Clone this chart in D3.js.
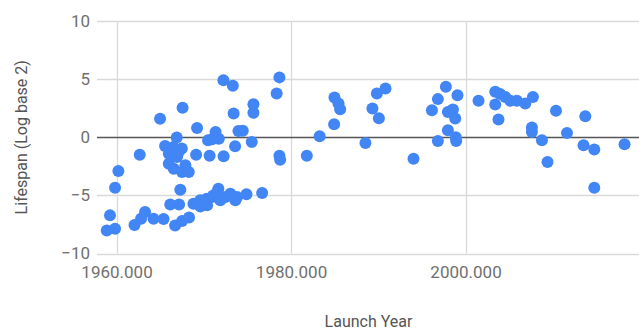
<!DOCTYPE html>
<html>
<head>
<meta charset="utf-8">
<script src="https://cdn.jsdelivr.net/npm/d3@7"></script>
<style>
  html, body { margin: 0; padding: 0; background: #fff; }
  svg { display: block; }
  text { font-family: Roboto, Arial, sans-serif; }
</style>
</head>
<body>
<svg id="chart" width="639" height="331"></svg>
<script>
// Launch year and lifespan (log base 2) of each mission
const launchYear = [
  1958.88, 1959.83, 1959.25, 1959.83, 1960.21, 1962.66, 1962.06, 1963.27, 1962.81, 1964.24,
  1965.39, 1966.71, 1967.51, 1968.31, 1966.16, 1967.17, 1967.31, 1965.99, 1966.56, 1966.94,
  1967.51, 1967.89, 1968.28, 1965.99, 1967.13, 1965.56, 1966.51, 1967.48, 1966.90, 1964.99,
  1967.57, 1969.23, 1969.12, 1970.67, 1972.27, 1971.35, 1970.95, 1971.72, 1970.49, 1973.59,
  1973.42, 1973.97, 1974.47, 1975.50, 1975.69, 1975.69, 1972.25, 1973.33, 1978.67, 1978.35,
  1978.67, 1978.75, 1981.81, 1983.28, 1968.81, 1969.61, 1969.58, 1970.38, 1970.34, 1970.95,
  1971.10, 1971.52, 1971.67, 1971.90, 1972.48, 1973.05, 1973.62, 1973.82, 1974.89, 1976.69,
  1969.92, 1984.94, 1984.98, 1985.44, 1985.63, 1988.53, 1989.33, 1990.07, 1989.84, 1990.83,
  1994.04, 1996.15, 1996.83, 1997.75, 1999.08, 1997.98, 1998.56, 1998.82, 1997.98, 1996.83,
  1998.93, 1998.88, 2001.49, 2003.41, 2003.98, 2004.56, 2003.41, 2005.13, 2005.89, 2006.85,
  2007.73, 2003.78, 2010.37, 2007.61, 2007.61, 2008.76, 2009.40, 2011.63, 2013.73, 2013.53,
  2014.76, 2014.76, 2018.23
];
const lifespanLog2 = [
  -8.02, -7.87, -6.72, -4.34, -2.91, -1.51, -7.54, -6.44, -7.01, -7.01,
  -7.03, -7.59, -7.20, -6.90, -5.78, -5.78, -4.51, -2.27, -2.70, -1.70,
  -2.99, -2.41, -2.99, -1.41, -1.27, -0.75, -0.84, -0.97, -0.03, 1.59,
  2.54, 0.80, -1.51, -1.59, -1.64, 0.46, -0.17, -0.13, -0.26, -0.78,
  2.04, 0.54, 0.56, -0.41, 2.84, 2.11, 4.91, 4.42, 5.15, 3.77,
  -1.59, -1.94, -1.59, 0.09, -5.72, -5.95, -5.43, -5.86, -5.28, -5.15,
  -5.00, -4.72, -4.42, -5.43, -5.15, -4.85, -5.43, -5.15, -4.91, -4.80,
  -5.60, 1.12, 3.42, 2.91, 2.41, -0.49, 2.47, 1.64, 3.77, 4.20,
  -1.84, 2.33, 3.28, 4.34, 3.62, 2.18, 2.39, 1.61, 0.60, -0.32,
  -0.32, 0.00, 3.13, 3.91, 3.71, 3.47, 2.82, 3.13, 3.13, 2.91,
  3.47, 1.53, 2.27, 0.84, 0.46, -0.26, -2.13, 0.37, 1.81, -0.69,
  -1.06, -4.34, -0.60
];

const xTicks = [1960, 1980, 2000, 2020];
const yTicks = [-10, -5, 0, 5, 10];
const xTitle = "Launch Year";
const yTitle = "Lifespan (Log base 2)";

const points = launchYear.map((yr, i) => ({ year: yr, life: lifespanLog2[i] }));

const svg = d3.select("#chart");
const plotLeft = 97, plotRight = 640, plotTop = 21, plotBottom = 253.5;

const x = d3.scaleLinear().domain([1957.76, 2020.0]).range([plotLeft, plotRight]);
const y = d3.scaleLinear().domain([-10, 10]).range([plotBottom, plotTop]);

// horizontal gridlines
svg.append("g")
  .selectAll("line")
  .data(yTicks.filter(t => t !== 0))
  .join("line")
  .attr("x1", plotLeft).attr("x2", plotRight)
  .attr("y1", d => Math.round(y(d)) + 0.5).attr("y2", d => Math.round(y(d)) + 0.5)
  .attr("stroke", "#d9d9d9").attr("stroke-width", 1.3);

// vertical gridlines
svg.append("g")
  .selectAll("line")
  .data(xTicks)
  .join("line")
  .attr("x1", d => Math.round(x(d)) + 0.5).attr("x2", d => Math.round(x(d)) + 0.5)
  .attr("y1", plotTop).attr("y2", plotBottom)
  .attr("stroke", "#d9d9d9").attr("stroke-width", 1.3);

// baseline at zero
svg.append("line")
  .attr("x1", plotLeft).attr("x2", plotRight)
  .attr("y1", Math.round(y(0)) + 0.5).attr("y2", Math.round(y(0)) + 0.5)
  .attr("stroke", "#555").attr("stroke-width", 1.3);

// y-axis tick labels
const yAxis = d3.axisLeft(y).tickValues(yTicks).tickSize(0).tickPadding(7).tickFormat(d3.format("d"));
const gy = svg.append("g").attr("transform", `translate(${plotLeft},0)`).call(yAxis);
gy.select(".domain").remove();
gy.selectAll("text").attr("font-size", 17).attr("fill", "#707070")
  .attr("font-family", "Roboto, Arial, sans-serif");

// x-axis tick labels
const xAxis = d3.axisBottom(x).tickValues(xTicks.filter(t => x(t) < 620))
  .tickSize(0).tickPadding(12).tickFormat(d3.format(".3f"));
const gx = svg.append("g").attr("transform", `translate(0,${plotBottom})`).call(xAxis);
gx.select(".domain").remove();
gx.selectAll("text").attr("font-size", 17).attr("fill", "#707070")
  .attr("font-family", "Roboto, Arial, sans-serif");

// points
svg.append("g")
  .selectAll("circle")
  .data(points)
  .join("circle")
  .attr("cx", d => x(d.year))
  .attr("cy", d => y(d.life))
  .attr("r", 6)
  .attr("fill", "#4285f4");

// axis titles
svg.append("text")
  .attr("x", (plotLeft + plotRight) / 2)
  .attr("y", 327)
  .attr("text-anchor", "middle")
  .attr("font-size", 16)
  .attr("fill", "#555")
  .text(xTitle);

svg.append("text")
  .attr("transform", `translate(27,${(plotTop + plotBottom) / 2}) rotate(-90)`)
  .attr("text-anchor", "middle")
  .attr("font-size", 16)
  .attr("fill", "#555")
  .text(yTitle);
</script>
</body>
</html>
